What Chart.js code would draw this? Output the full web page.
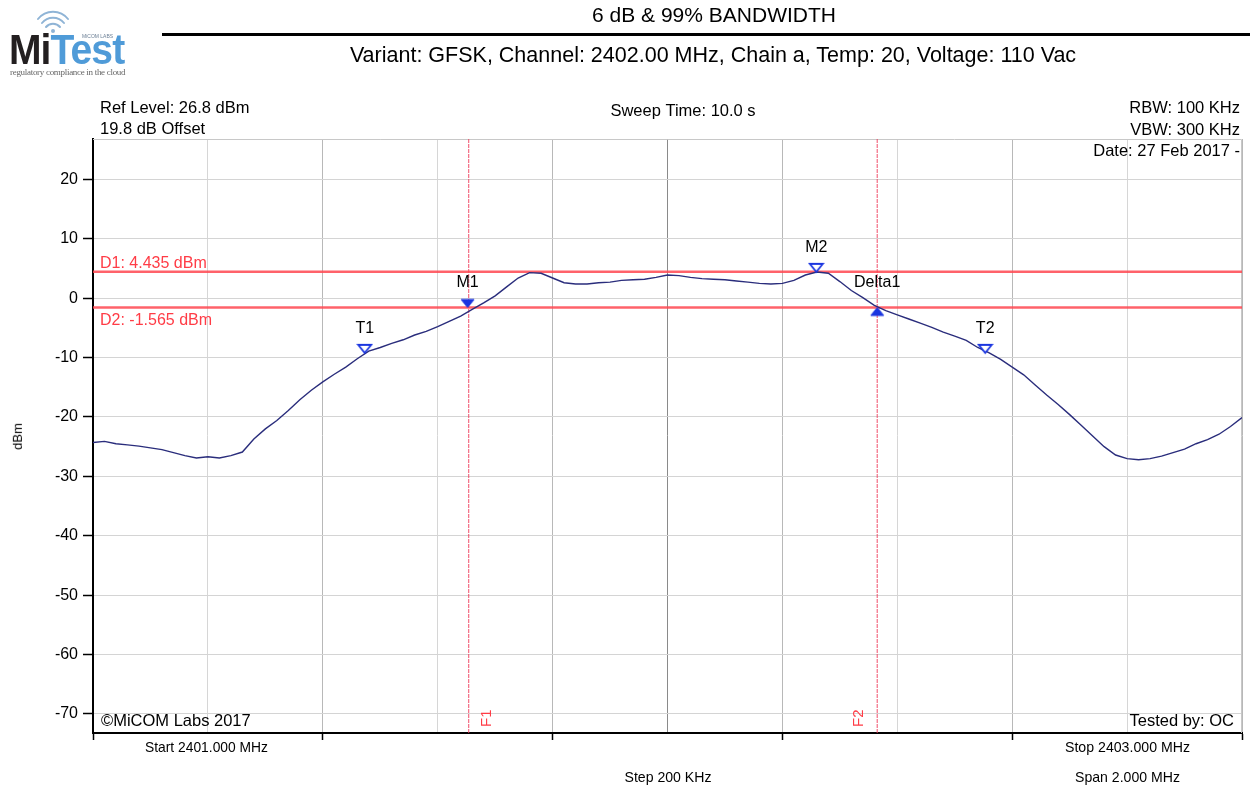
<!DOCTYPE html>
<html><head><meta charset="utf-8">
<script src="https://cdn.jsdelivr.net/npm/chart.js@4/dist/chart.umd.min.js"></script>
<style>
html,body{margin:0;padding:0;background:#fff;}
#wrap{position:relative;width:1250px;height:788px;overflow:hidden;font-family:"Liberation Sans",Arial,sans-serif;}
#c{position:absolute;left:0;top:0;}
.t{position:absolute;white-space:nowrap;color:#000;}
</style></head><body>
<div id="wrap">
<canvas id="c" width="1250" height="788"></canvas>
<div class="t" style="left:0;width:1428px;text-align:center;top:3px;font-size:21px;">6 dB &amp; 99% BANDWIDTH</div>
<div style="position:absolute;left:162px;top:33px;width:1088px;height:3px;background:#000;"></div>
<div class="t" style="left:0;width:1426px;text-align:center;top:43px;font-size:21.5px;">Variant: GFSK, Channel: 2402.00 MHz, Chain a, Temp: 20, Voltage: 110 Vac</div>
<div class="t" style="left:4px;top:429px;font-size:13px;transform:rotate(-90deg);transform-origin:center;">dBm</div>
<div id="logo" style="position:absolute;left:0;top:0;width:150px;height:85px;">
  <svg width="150" height="85" style="position:absolute;left:0;top:0">
    <g fill="none" stroke="#8fb4d6" stroke-width="2" stroke-linecap="round">
      <path d="M46 27 A9 9 0 0 1 60 27"/>
      <path d="M42 23 A14 14 0 0 1 64 23"/>
      <path d="M38 19 A19 19 0 0 1 68 19"/>
    </g>
    <circle cx="53" cy="31" r="2" fill="#8fb4d6"/>
  </svg>
  <div class="t" style="left:9px;top:26px;font:bold 42px 'Liberation Sans',sans-serif;letter-spacing:-1px;color:#231f20;transform:scaleX(0.93);transform-origin:left top;">Mi<span style="color:#4f9bd8">Test</span></div>
  <div class="t" style="left:82px;top:33px;font-size:5px;color:#6b7f95;">MiCOM LABS</div>
  <div class="t" style="left:10px;top:67px;font:9px 'Liberation Serif',serif;color:#666;letter-spacing:-0.3px;">regulatory compliance in the cloud</div>
</div>
</div>
<script>
// ---- data ----
const freqMHz = [2401.00,2401.02,2401.04,2401.06,2401.08,2401.10,2401.12,2401.14,2401.16,2401.18,
 2401.20,2401.22,2401.24,2401.26,2401.28,2401.30,2401.32,2401.34,2401.36,2401.38,
 2401.40,2401.42,2401.44,2401.46,2401.48,2401.50,2401.52,2401.54,2401.56,2401.58,
 2401.60,2401.62,2401.64,2401.66,2401.68,2401.70,2401.72,2401.74,2401.76,2401.78,
 2401.80,2401.82,2401.84,2401.86,2401.88,2401.90,2401.92,2401.94,2401.96,2401.98,
 2402.00,2402.02,2402.04,2402.06,2402.08,2402.10,2402.12,2402.14,2402.16,2402.18,
 2402.20,2402.22,2402.24,2402.26,2402.28,2402.30,2402.32,2402.34,2402.36,2402.38,
 2402.40,2402.42,2402.44,2402.46,2402.48,2402.50,2402.52,2402.54,2402.56,2402.58,
 2402.60,2402.62,2402.64,2402.66,2402.68,2402.70,2402.72,2402.74,2402.76,2402.78,
 2402.80,2402.82,2402.84,2402.86,2402.88,2402.90,2402.92,2402.94,2402.96,2402.98,
 2403.00];
const levelDbm = [-24.3,-24.1,-24.5,-24.7,-24.9,-25.2,-25.5,-26.0,-26.5,-26.9,
 -26.7,-26.9,-26.5,-25.9,-23.7,-22.0,-20.6,-18.9,-17.1,-15.5,
 -14.1,-12.8,-11.6,-10.2,-8.9,-8.3,-7.6,-7.0,-6.2,-5.6,
 -4.8,-3.9,-3.0,-1.9,-0.8,0.4,1.9,3.4,4.3,4.2,
 3.4,2.6,2.4,2.4,2.6,2.7,3.0,3.1,3.2,3.5,
 3.9,3.8,3.5,3.3,3.2,3.1,2.9,2.7,2.5,2.4,
 2.5,3.0,3.9,4.4,4.2,2.8,1.3,0.1,-1.2,-2.1,
 -2.8,-3.5,-4.2,-4.9,-5.7,-6.4,-7.1,-8.3,-9.2,-10.3,
 -11.6,-12.9,-14.6,-16.3,-17.9,-19.6,-21.4,-23.2,-25.0,-26.4,
 -27.0,-27.2,-27.0,-26.6,-26.0,-25.4,-24.5,-23.8,-22.9,-21.6,
 -20.1];
const yTicks = [-70,-60,-50,-40,-30,-20,-10,0,10,20];
const xTicks = [2401.0,2401.2,2401.4,2401.6,2401.8,2402.0,2402.2,2402.4,2402.6,2402.8,2403.0];
const markerNames = ['T1','M1','M2','Delta1','T2'];
const markerFreq  = [2401.473,2401.652,2402.259,2402.365,2402.553];
const markerLevel = [-9.2,-1.565,4.435,-1.565,-9.2];
const markerKind  = ['open','filled','open','up','open'];
const displayLineNames = ['D1','D2'];
const displayLineLevels = [4.435,-1.565];
const freqLineNames = ['F1','F2'];
const freqLineValues = [2401.654,2402.365];
const refLevel = 26.8, bottomLevel = -73.2;
const startF = 2401.0, stopF = 2403.0;

// ---- marker glyphs ----
function tri(kind){
  const w=13,h=8,c=document.createElement('canvas');
  c.width=w+4; c.height=2*h+4;
  const g=c.getContext('2d'); const cx=c.width/2, cy=c.height/2;
  g.beginPath();
  if(kind==='up'){ g.moveTo(cx,cy); g.lineTo(cx+w/2,cy+h); g.lineTo(cx-w/2,cy+h); }
  else { g.moveTo(cx,cy); g.lineTo(cx+w/2,cy-h); g.lineTo(cx-w/2,cy-h); }
  g.closePath();
  if(kind==='open'){ g.fillStyle='#fff'; g.fill(); g.lineWidth=1.8; g.strokeStyle='#1a35e0'; g.stroke(); }
  else { g.fillStyle='#1a35e0'; g.fill(); g.lineWidth=1; g.strokeStyle='#1a35e0'; g.stroke(); }
  return c;
}
const glyphs = {open:tri('open'),filled:tri('filled'),up:tri('up')};

const FONT = '"Liberation Sans", Arial, sans-serif';
function txt(ctx,s,x,y,opt){
  ctx.save();
  ctx.font=(opt.size||16)+'px '+FONT;
  ctx.fillStyle=opt.color||'#000';
  ctx.textAlign=opt.align||'left';
  ctx.textBaseline='alphabetic';
  if(opt.maxW) ctx.fillText(s,x,y,opt.maxW); else ctx.fillText(s,x,y);
  ctx.restore();
}

const annot = {
  id:'annot',
  beforeDatasetsDraw(chart){
    const {ctx, chartArea:a} = chart;
    ctx.save(); ctx.strokeStyle='#c8c8c8'; ctx.lineWidth=1;
    ctx.beginPath(); ctx.moveTo(a.left,a.top+0.5); ctx.lineTo(a.right-0.5,a.top+0.5); ctx.lineTo(a.right-0.5,a.bottom); ctx.stroke();
    ctx.restore();
  },
  afterDraw(chart){
    const {ctx, chartArea:a, scales:{x,y}} = chart;
    // header info
    txt(ctx,'Ref Level: 26.8 dBm',100,113,{size:16.5,maxW:152});
    txt(ctx,'19.8 dB Offset',100,134,{size:16.5,maxW:109});
    txt(ctx,'Sweep Time: 10.0 s',683,116,{size:16.5,align:'center',maxW:146});
    txt(ctx,'RBW: 100 KHz',1240,113,{size:16.5,align:'right',maxW:112});
    txt(ctx,'VBW: 300 KHz',1240,135,{size:16.5,align:'right',maxW:112});
    txt(ctx,'Date: 27 Feb 2017 -',1240,156,{size:16.5,align:'right',maxW:150});
    txt(ctx,'\u00A9MiCOM Labs 2017',a.left+8,a.bottom-7,{size:16.5,maxW:151});
    txt(ctx,'Tested by: OC',a.right-8,a.bottom-7,{size:16.5,align:'right',maxW:109});
    // below axis
    txt(ctx,'Start 2401.000 MHz',145,752,{size:15,maxW:123});
    txt(ctx,'Stop 2403.000 MHz',1065,752,{size:15,maxW:125});
    txt(ctx,'Step 200 KHz',668,782,{size:15,align:'center',maxW:87});
    txt(ctx,'Span 2.000 MHz',1075,782,{size:15,maxW:105});
    // display line labels
    const red='#ff3c46';
    txt(ctx,displayLineNames[0]+': '+displayLineLevels[0].toFixed(3)+' dBm',a.left+7,y.getPixelForValue(displayLineLevels[0])-4,{size:16,color:red,maxW:110});
    txt(ctx,displayLineNames[1]+': '+displayLineLevels[1].toFixed(3)+' dBm',a.left+7,y.getPixelForValue(displayLineLevels[1])+18,{size:16,color:red,maxW:115});
    // F labels rotated
    freqLineNames.forEach((n,i)=>{
      const px=x.getPixelForValue(freqLineValues[i]);
      ctx.save();
      ctx.translate(i===0?px+11:px-26, a.bottom-6);
      ctx.rotate(-Math.PI/2);
      ctx.font='15px '+FONT; ctx.fillStyle=red; ctx.textBaseline='top'; ctx.textAlign='left';
      ctx.fillText(n,0,0);
      ctx.restore();
    });
    // marker labels
    markerNames.forEach((n,i)=>{
      txt(ctx,n,x.getPixelForValue(markerFreq[i]),y.getPixelForValue(markerLevel[i])-20,{size:16,align:'center'});
    });
  }
};

const traceData = freqMHz.map((f,i)=>({x:f,y:levelDbm[i]}));
const markerSets = ['open','filled','up'].map(k=>({
  data: markerNames.map((n,i)=>markerKind[i]===k?{x:markerFreq[i],y:markerLevel[i]}:null).filter(Boolean),
  showLine:false, pointStyle:glyphs[k], pointRadius:8, borderWidth:0, order:0
}));
const hLines = displayLineLevels.map(v=>({
  data:[{x:startF,y:v},{x:stopF,y:v}], borderColor:'rgba(255,70,80,0.85)', borderWidth:2.5, pointRadius:0, order:3
}));
const vLines = freqLineValues.map(v=>({
  data:[{x:v,y:bottomLevel},{x:v,y:refLevel}], borderColor:'rgba(240,60,90,0.9)', borderWidth:1, borderDash:[4,1], pointRadius:0, order:4
}));

const gridIdx = v => Math.round((v-startF)/0.2);
new Chart(document.getElementById('c'),{
  type:'line',
  data:{datasets:[
    ...markerSets,
    {data:traceData, borderColor:'#2a2d7c', borderWidth:1.4, pointRadius:0, tension:0, order:2},
    ...hLines, ...vLines
  ]},
  plugins:[annot],
  options:{
    responsive:false, animation:false, events:[], devicePixelRatio:1,
    layout:{padding:{top:139,right:7,left:0,bottom:0}},
    plugins:{legend:{display:false},tooltip:{enabled:false}},
    scales:{
      x:{type:'linear',min:startF,max:stopF,
        afterBuildTicks:s=>{s.ticks=xTicks.map(v=>({value:v}));},
        afterFit:s=>{s.height=55;},
        ticks:{display:false},
        border:{color:'#000',width:2},
        grid:{
          color:c=>{const v=c.tick.value; if(Math.abs(v-2402)<1e-6) return '#8a8a8a'; return gridIdx(v)%2===0?'#b8b8b8':'#d6d6d6';},
          tickColor:c=>gridIdx(c.tick.value)%2===0?'#000':'rgba(0,0,0,0)',
          tickLength:7, tickWidth:1.5, lineWidth:1
        }
      },
      y:{type:'linear',min:bottomLevel,max:refLevel,
        afterBuildTicks:s=>{s.ticks=yTicks.map(v=>({value:v}));},
        afterFit:s=>{s.width=93;},
        ticks:{color:'#000',font:{size:16,family:'"Liberation Sans", Arial, sans-serif'},padding:5},
        border:{color:'#000',width:2},
        grid:{color:'#d4d4d4',tickColor:'#000',tickLength:10,lineWidth:1,tickWidth:1.5}
      }
    }
  }
});
</script>
</body></html>
